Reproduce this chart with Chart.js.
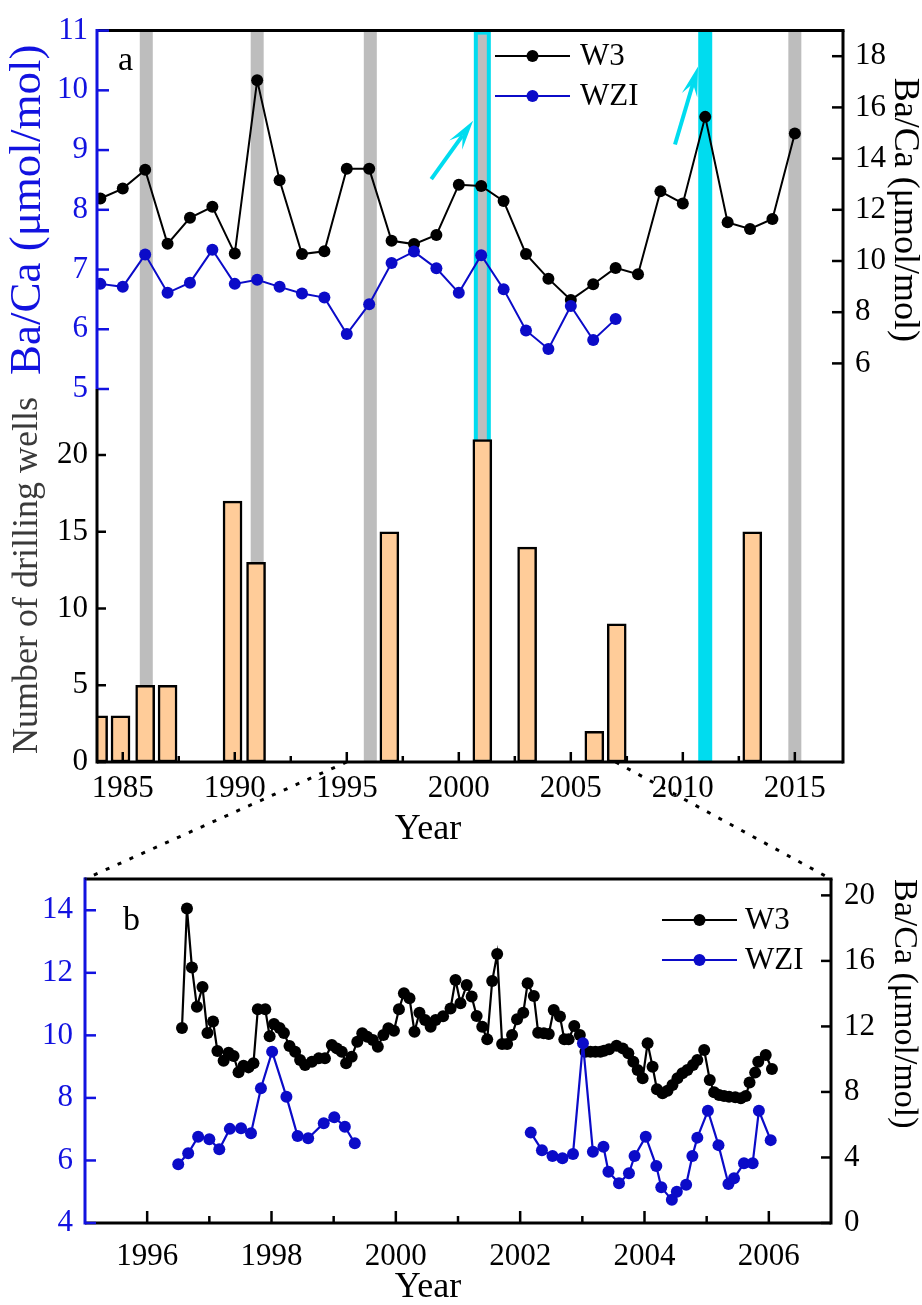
<!DOCTYPE html>
<html><head><meta charset="utf-8"><title>Ba/Ca and drilling wells</title>
<script src="https://cdn.jsdelivr.net/npm/chart.js@4.4.1/dist/chart.umd.min.js"></script>
<style>
html,body{margin:0;padding:0;background:#fff;}
#wrap{position:relative;width:922px;height:1305px;overflow:hidden;background:#fff;}
#wrap canvas{position:absolute;left:0;top:0;}
</style></head>
<body><div id="wrap">
<canvas id="cA" width="922" height="1305"></canvas>
<canvas id="cB" width="922" height="1305"></canvas>
<canvas id="cC" width="922" height="1305"></canvas>
</div>
<script>
const FONT = "'Liberation Serif','Times New Roman',Times,serif";
Chart.defaults.font.family = FONT;
Chart.defaults.color = '#000';
const BLUE = '#0b0bc8', AXBLUE = '#1212e0', CYAN = '#00dcef', GRAY = '#bdbdbd', PEACH = '#ffcc99', INK = '#000', TITLEGRAY = '#3a3a3a';

// ---------- panel a : annual Ba/Ca ----------
const yearsW3a = [1984,1985,1986,1987,1988,1989,1990,1991,1992,1993,1994,1995,1996,1997,1998,1999,2000,2001,2002,2003,2004,2005,2006,2007,2008,2009,2010,2011,2012,2013,2014,2015];
const w3a = [12.44,12.83,13.56,10.67,11.69,12.12,10.29,17.06,13.15,10.27,10.38,13.6,13.6,10.79,10.66,11.02,12.98,12.93,12.34,10.27,9.31,8.48,9.09,9.73,9.48,12.72,12.25,15.63,11.51,11.25,11.64,14.98];
const yearsWZIa = [1984,1985,1986,1987,1988,1989,1990,1991,1992,1993,1994,1995,1996,1997,1998,1999,2000,2001,2002,2003,2004,2005,2006,2007];
const wzia = [6.76,6.71,7.25,6.61,6.78,7.33,6.76,6.83,6.71,6.60,6.53,5.92,6.42,7.11,7.30,7.02,6.61,7.24,6.67,5.98,5.67,6.39,5.82,6.17];

// ---------- panel a : drilling wells ----------
const wellYears = [1983.9,1984.9,1986,1987,1989.9,1990.95,1996.9,2001.05,2003.05,2006.05,2007.05,2013.1];
const wells = [3,3,5,5,17,13,15,21,14,2,9,15];

// highlighted years (bands) and arrows (in data units: year, Ba/Ca right axis)
const grayBandYears = [1986.05,1991,1996.05,2001.05,2015];
const cyanBandYears = [2001.05,2011];
const arrowFrom = [[1998.77,13.2],[2009.65,14.55]];
const arrowTo = [[2000.64,15.48],[2010.68,17.6]];

// ---------- ticks panel a ----------
const tickBaLeftA = [5,6,7,8,9,10,11];
const tickBaRightA = [6,8,10,12,14,16,18];
const tickWells = [0,5,10,15,20];
const tickYearA = [1985,1990,1995,2000,2005,2010,2015];
const minorYearA = [1987.5,1992.5,1997.5,2002.5,2007.5,2012.5];

// ---------- panel b : monthly Ba/Ca ----------
const w3bYears = [1996.56,1996.64,1996.72,1996.80,1996.89,1996.97,
1997.06,1997.13,1997.23,1997.31,1997.39,1997.47,1997.55,1997.63,1997.71,1997.78,1997.90,1997.97,
1998.04,1998.13,1998.20,1998.29,1998.38,1998.46,1998.54,1998.65,1998.76,1998.86,1998.97,
1999.05,1999.13,1999.20,1999.29,1999.38,1999.46,1999.54,1999.63,1999.71,1999.80,1999.88,1999.97,
2000.05,2000.13,2000.22,2000.30,2000.38,2000.47,2000.56,2000.64,2000.76,2000.88,2000.96,
2001.04,2001.14,2001.22,2001.30,2001.39,2001.47,2001.55,2001.63,2001.71,2001.79,2001.87,2001.95,
2002.05,2002.12,2002.22,2002.29,2002.38,2002.46,2002.54,2002.64,2002.71,2002.78,2002.87,2002.96,
2003.05,2003.13,2003.21,2003.29,2003.35,2003.43,2003.55,2003.65,2003.74,2003.82,2003.89,2003.97,
2004.05,2004.13,2004.20,2004.29,2004.37,2004.45,2004.53,2004.61,2004.69,2004.78,2004.85,2004.96,
2005.05,2005.12,2005.20,2005.28,2005.36,2005.46,2005.55,2005.63,2005.69,2005.78,2005.83,2005.95,
2006.05];
const w3b = [11.9,19.2,15.6,13.2,14.4,11.6,
12.3,10.5,9.9,10.4,10.2,9.2,9.6,9.5,9.75,13.05,13.05,11.4,
12.15,11.9,11.6,10.8,10.46,9.95,9.65,9.85,10.05,10.05,10.87,
10.66,10.46,9.75,10.15,11.07,11.58,11.37,11.17,10.76,11.48,11.89,11.74,
13.05,14.02,13.72,11.68,12.84,12.39,11.98,12.39,12.62,13.1,14.84,
13.41,14.53,13.82,12.64,11.98,11.21,14.77,16.42,10.93,10.93,11.48,12.44,
12.84,14.63,13.86,11.62,11.58,11.54,13.0,12.6,11.21,11.21,12.03,11.48,
10.46,10.46,10.46,10.46,10.52,10.6,10.82,10.66,10.36,9.85,9.34,8.83,
10.97,9.54,8.16,7.92,8.08,8.42,8.83,9.14,9.34,9.65,9.95,10.56,
8.73,7.98,7.81,7.75,7.71,7.67,7.61,7.75,8.57,9.18,9.85,10.26,
9.4];
const wzibYears = [1996.50,1996.66,1996.82,1997.00,1997.16,1997.33,1997.51,1997.67,1997.83,1998.01,1998.24,1998.42,1998.59,1998.84,1999.01,1999.18,1999.34,
2000.75,
2002.17,2002.35,2002.52,2002.68,2002.85,2003.01,2003.17,2003.34,2003.42,2003.59,2003.75,2003.84,2004.02,2004.19,2004.27,2004.44,2004.52,2004.67,2004.77,2004.85,2005.02,2005.19,2005.35,2005.44,2005.60,2005.74,2005.84,2006.03];
const wzib = [5.88,6.23,6.76,6.68,6.36,7.01,7.03,6.87,8.31,9.48,8.04,6.78,6.71,7.19,7.38,7.08,6.55,
null,
6.89,6.33,6.14,6.07,6.21,9.75,6.28,6.44,5.64,5.27,5.59,6.14,6.76,5.82,5.14,4.74,5.0,5.22,6.14,6.73,7.59,6.49,5.25,5.43,5.91,5.91,7.59,6.65];

// ---------- ticks panel b ----------
const tickYearB = [1996,1998,2000,2002,2004,2006];
const minorYearB = [1997,1999,2001,2003,2005];
const tickBaLeftB = [4,6,8,10,12,14];
const tickBaRightB = [0,4,8,12,16,20];

// ---------- helpers ----------
const pts = (xs, ys) => xs.map((x, i) => ({x: x, y: ys[i]}));
const fixedTicks = arr => s => { s.ticks = arr.map(v => ({value: v})); };
const plainNum = v => String(v);

function seg(ctx, x1, y1, x2, y2, c, w) {
  ctx.strokeStyle = c; ctx.lineWidth = w; ctx.setLineDash([]);
  ctx.beginPath(); ctx.moveTo(x1, y1); ctx.lineTo(x2, y2); ctx.stroke();
}
function yTicks(ctx, sc, vals, x, len, c) {
  vals.forEach(v => { const y = sc.getPixelForValue(v); seg(ctx, x, y, x + len, y, c, 2.5); });
}
function xTicks(ctx, sc, vals, y, len, c) {
  vals.forEach(v => { const x = sc.getPixelForValue(v); seg(ctx, x, y, x, y - len, c, 2.5); });
}
function text(ctx, s, x, y, size, color, align) {
  ctx.font = size + 'px ' + FONT; ctx.fillStyle = color;
  ctx.textAlign = align || 'left'; ctx.textBaseline = 'alphabetic';
  ctx.fillText(s, x, y);
}
function yScale(pos, min, max, width, ticksArr, color, pad, title) {
  return {
    type: 'linear', position: pos, min: min, max: max,
    afterFit: s => { s.width = width; },
    afterBuildTicks: fixedTicks(ticksArr),
    grid: {display: false, drawTicks: false, tickLength: 0},
    border: {display: false},
    ticks: {color: color, font: {size: 31}, padding: pad, autoSkip: false, callback: plainNum},
    title: title || {display: false}
  };
}
function legendPlugin(id, x0, x1, xt, ys, r) {
  return {id: id, afterDraw(chart) {
    const ctx = chart.ctx; ctx.save();
    chart.data.datasets.forEach((ds, i) => {
      const y = ys[i];
      seg(ctx, x0, y, x1, y, ds.borderColor, 2);
      ctx.fillStyle = ds.backgroundColor; ctx.beginPath(); ctx.arc((x0 + x1) / 2, y, r, 0, Math.PI * 2); ctx.fill();
      ctx.font = '31px ' + FONT; ctx.fillStyle = INK; ctx.textAlign = 'left'; ctx.textBaseline = 'middle';
      ctx.fillText(ds.label, xt, y + 1);
    });
    ctx.restore();
  }};
}
function bandsPlugin(id, topInset) {
  return {id: id, beforeDatasetsDraw(chart) {
    const ctx = chart.ctx, a = chart.chartArea, x = chart.scales.x;
    ctx.save(); ctx.beginPath(); ctx.rect(a.left, a.top, a.right - a.left, a.bottom - a.top); ctx.clip();
    cyanBandYears.forEach(yr => {
      const px = x.getPixelForValue(yr), w = grayBandYears.includes(yr) ? 17 : 14;
      ctx.fillStyle = CYAN; ctx.fillRect(px - w / 2, a.top, w, a.bottom - a.top);
    });
    grayBandYears.forEach(yr => {
      const both = cyanBandYears.includes(yr);
      const px = x.getPixelForValue(yr), w = both ? 9 : 13, t = both ? topInset : 0;
      ctx.fillStyle = GRAY; ctx.fillRect(px - w / 2, a.top + t, w, a.bottom - a.top - t);
    });
    ctx.restore();
  }};
}
function arrow(ctx, x1, y1, x2, y2) {
  const ang = Math.atan2(y2 - y1, x2 - x1), c = Math.cos(ang), s = Math.sin(ang);
  const L = 30, W = 8, N = 18;
  ctx.strokeStyle = CYAN; ctx.fillStyle = CYAN; ctx.lineWidth = 4; ctx.setLineDash([]);
  ctx.beginPath(); ctx.moveTo(x1, y1); ctx.lineTo(x2 - N * c, y2 - N * s); ctx.stroke();
  ctx.beginPath(); ctx.moveTo(x2, y2);
  ctx.lineTo(x2 - L * c + W * s, y2 - L * s - W * c);
  ctx.lineTo(x2 - N * c, y2 - N * s);
  ctx.lineTo(x2 - L * c - W * s, y2 - L * s + W * c);
  ctx.closePath(); ctx.fill();
}

// ---------- chart A : Ba/Ca annual ----------
const chartA = new Chart(document.getElementById('cA'), {
  type: 'line',
  data: {datasets: [
    {label: 'W3', data: pts(yearsW3a, w3a), yAxisID: 'yR', borderColor: INK, backgroundColor: INK,
     borderWidth: 2, pointRadius: 6, pointBorderWidth: 0, pointBackgroundColor: INK, order: 1},
    {label: 'WZI', data: pts(yearsWZIa, wzia), yAxisID: 'yL', borderColor: BLUE, backgroundColor: BLUE,
     borderWidth: 2, pointRadius: 6, pointBorderWidth: 0, pointBackgroundColor: BLUE, order: 0}
  ]},
  options: {
    responsive: false, animation: false, events: [],
    layout: {padding: {left: 0, right: 0, top: 27, bottom: 1305 - 389}},
    plugins: {legend: {display: false}, tooltip: {enabled: false}},
    scales: {
      x: {type: 'linear', min: 1983.85, max: 2017.15, display: false},
      yL: yScale('left', 5, 11, 97, tickBaLeftA, AXBLUE, 9,
        {display: true, text: 'Ba/Ca (μmol/mol)', color: AXBLUE, font: {size: 45, lineHeight: 1}, padding: {top: 6, bottom: 0}}),
      yR: yScale('right', 5, 19, 79, tickBaRightA, INK, 12,
        {display: true, text: 'Ba/Ca (μmol/mol)', color: INK, font: {size: 36, lineHeight: 1}, padding: {top: 0, bottom: 0}})
    }
  },
  plugins: [bandsPlugin('bandsA', 4),
    {id: 'frameA', afterDraw(chart) {
      const ctx = chart.ctx, a = chart.chartArea, s = chart.scales;
      ctx.save();
      arrowFrom.forEach((f, i) => arrow(ctx, s.x.getPixelForValue(f[0]), s.yR.getPixelForValue(f[1]),
                                          s.x.getPixelForValue(arrowTo[i][0]), s.yR.getPixelForValue(arrowTo[i][1])));
      seg(ctx, a.left, a.top, a.right + 1.5, a.top, INK, 3);
      seg(ctx, a.right, a.top, a.right, a.bottom, INK, 3);
      seg(ctx, a.left, a.top - 1.5, a.left, a.bottom, AXBLUE, 3);
      yTicks(ctx, s.yL, tickBaLeftA, a.left, 12, AXBLUE);
      yTicks(ctx, s.yR, tickBaRightA, a.right, -11, INK);
      text(ctx, 'a', 118, 70, 34, INK);
      ctx.restore();
    }},
    legendPlugin('legA', 495, 570, 580, [56, 96], 6)
  ]
});

// ---------- chart B : drilling wells ----------
const chartB = new Chart(document.getElementById('cB'), {
  type: 'bar',
  data: {datasets: [
    {label: 'Number of drilling wells', data: pts(wellYears, wells), backgroundColor: PEACH, borderColor: INK,
     borderWidth: 2.5, borderSkipped: false, barThickness: 19, clip: 0}
  ]},
  options: {
    responsive: false, animation: false, events: [],
    layout: {padding: {left: 0, right: 79, top: 389, bottom: 1305 - 762 - 87}},
    plugins: {legend: {display: false}, tooltip: {enabled: false}},
    scales: {
      x: {type: 'linear', min: 1983.85, max: 2017.15, offset: false, position: 'bottom',
        afterFit: s => { s.height = 87; }, afterBuildTicks: fixedTicks(tickYearA),
        grid: {display: false, drawTicks: false, tickLength: 0, offset: false}, border: {display: false},
        ticks: {font: {size: 31}, color: INK, padding: 8, maxRotation: 0, autoSkip: false, callback: plainNum}},
      y: yScale('left', 0, 24.3, 97, tickWells, INK, 9,
        {display: true, text: 'Number of drilling wells', color: TITLEGRAY, font: {size: 36, lineHeight: 1}, padding: {top: 10, bottom: 0}})
    }
  },
  plugins: [bandsPlugin('bandsB', 0),
    {id: 'frameB', afterDraw(chart) {
      const ctx = chart.ctx, a = chart.chartArea, s = chart.scales;
      ctx.save();
      seg(ctx, a.left, a.top, a.left, a.bottom + 1.5, INK, 3);
      seg(ctx, a.right, a.top, a.right, a.bottom + 1.5, INK, 3);
      seg(ctx, a.left, a.bottom, a.right, a.bottom, INK, 3);
      yTicks(ctx, s.y, tickWells, a.left, 9, INK);
      xTicks(ctx, s.x, tickYearA, a.bottom, 10, INK);
      xTicks(ctx, s.x, minorYearA, a.bottom, 6, INK);
      ctx.font = '36px ' + FONT; ctx.fillStyle = INK; ctx.textAlign = 'center'; ctx.textBaseline = 'middle';
      ctx.fillText('Year', 428, 830);
      ctx.restore();
    }}
  ]
});

// ---------- chart C : monthly Ba/Ca ----------
const chartC = new Chart(document.getElementById('cC'), {
  type: 'line',
  data: {datasets: [
    {label: 'W3', data: pts(w3bYears, w3b), yAxisID: 'yR', borderColor: INK, backgroundColor: INK,
     borderWidth: 2.2, pointRadius: 6, pointBorderWidth: 0, pointBackgroundColor: INK, order: 1},
    {label: 'WZI', data: pts(wzibYears, wzib), yAxisID: 'yL', borderColor: BLUE, backgroundColor: BLUE,
     borderWidth: 2.2, pointRadius: 6, pointBorderWidth: 0, pointBackgroundColor: BLUE, spanGaps: false, order: 0}
  ]},
  options: {
    responsive: false, animation: false, events: [],
    layout: {padding: {left: 0, right: 0, top: 879, bottom: 0}},
    plugins: {legend: {display: false}, tooltip: {enabled: false}},
    scales: {
      x: {type: 'linear', min: 1995, max: 2007, position: 'bottom',
        afterFit: s => { s.height = 1305 - 1223; }, afterBuildTicks: fixedTicks(tickYearB),
        grid: {display: false, drawTicks: false, tickLength: 0}, border: {display: false},
        ticks: {font: {size: 31}, color: INK, padding: 15, maxRotation: 0, autoSkip: false, callback: plainNum}},
      yL: yScale('left', 4, 15, 85, tickBaLeftB, AXBLUE, 12),
      yR: yScale('right', 0, 21, 91, tickBaRightB, INK, 13,
        {display: true, text: 'Ba/Ca (μmol/mol)', color: INK, align: 'end', font: {size: 34, lineHeight: 1}, padding: {top: 1, bottom: 0}})
    }
  },
  plugins: [
    {id: 'frameC', afterDraw(chart) {
      const ctx = chart.ctx, a = chart.chartArea, s = chart.scales;
      ctx.save();
      seg(ctx, a.left, a.top, a.right + 1.5, a.top, INK, 3);
      seg(ctx, a.right, a.top, a.right, a.bottom + 1.5, INK, 3);
      seg(ctx, a.left, a.bottom, a.right, a.bottom, INK, 3);
      seg(ctx, a.left, a.top - 1.5, a.left, a.bottom + 1.5, AXBLUE, 3);
      yTicks(ctx, s.yL, tickBaLeftB, a.left, 11, AXBLUE);
      yTicks(ctx, s.yR, tickBaRightB, a.right, -10, INK);
      xTicks(ctx, s.x, tickYearB, a.bottom, 12, INK);
      xTicks(ctx, s.x, minorYearB, a.bottom, 7, INK);
      text(ctx, 'b', 123, 930, 34, INK);
      ctx.font = '36px ' + FONT; ctx.fillStyle = INK; ctx.textAlign = 'center'; ctx.textBaseline = 'middle';
      ctx.fillText('Year', 428, 1288);
      // zoom connectors from panel a's 1995–2007 window to panel b
      const bx = chartB.scales.x, bb = chartB.chartArea.bottom;
      ctx.strokeStyle = INK; ctx.lineWidth = 3; ctx.setLineDash([4, 9]);
      ctx.beginPath(); ctx.moveTo(bx.getPixelForValue(s.x.min), bb); ctx.lineTo(a.left, a.top); ctx.stroke();
      ctx.beginPath(); ctx.moveTo(bx.getPixelForValue(s.x.max), bb); ctx.lineTo(a.right, a.top); ctx.stroke();
      ctx.restore();
    }},
    legendPlugin('legC', 662, 737, 745, [920, 960], 6)
  ]
});
</script></body></html>
